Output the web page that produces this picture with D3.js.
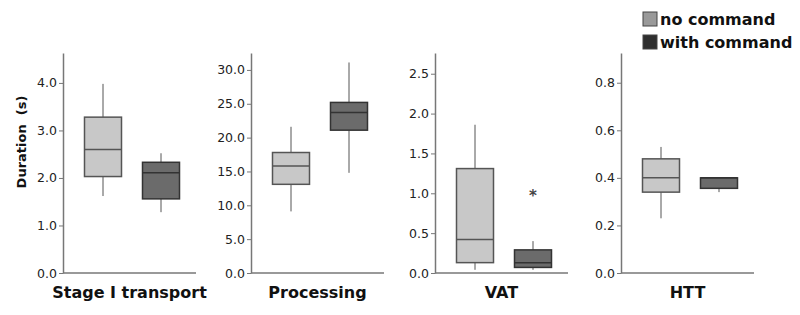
<!DOCTYPE html>
<html>
<head>
<meta charset="utf-8">
<script src="https://cdn.jsdelivr.net/npm/d3@7"></script>
<style>
  body { margin: 0; background: #fff; }
  svg { display: block; font-family: "DejaVu Sans", Verdana, sans-serif; }
  .tick text { fill: #222; font-size: 12.5px; font-family: "DejaVu Sans", Verdana, sans-serif; }
  .domain, .tick line { stroke: #777; }
</style>
</head>
<body>
<svg width="800" height="315"></svg>
<script>
// categories (one panel each) and the two series
var categories = ['Stage I transport', 'Processing', 'VAT', 'HTT'];
var series = ['no command', 'with command'];

// box stats per category: [min, q1, median, q3, max]
var noCommand = [
    [1.62, 2.03, 2.60, 3.28, 3.98],
    [9.1, 13.1, 15.8, 17.8, 21.6],
    [0.04, 0.13, 0.42, 1.31, 1.86],
    [0.23, 0.34, 0.40, 0.48, 0.53]
];
var withCommand = [
    [1.28, 1.56, 2.11, 2.33, 2.52],
    [14.8, 21.1, 23.7, 25.2, 31.1],
    [0.04, 0.07, 0.13, 0.29, 0.40],
    [0.34, 0.356, 0.40, 0.40, 0.40]
];
// outliers: [category index, series index, value]
var outliers = [[2, 1, 1.0]];

// y axis per panel
var yMax = [4.63, 32.5, 2.76, 0.925];
var tickValues = [
    [0, 1, 2, 3, 4],
    [0, 5, 10, 15, 20, 25, 30],
    [0, 0.5, 1, 1.5, 2, 2.5],
    [0, 0.2, 0.4, 0.6, 0.8]
];

var svg = d3.select('svg');

var fills = {'no command': '#c8c8c8', 'with command': '#6b6b6b'};
var strokes = {'no command': '#555', 'with command': '#333'};

var panelX = [63, 251, 435, 621];
var panelW = 133;
var yTop = 53, yBottom = 273;
var boxW = 37;

var x = d3.scalePoint()
    .domain(series)
    .range([40, 98]);

categories.forEach(function(cat, i) {
    var g = svg.append('g')
        .attr('transform', 'translate(' + panelX[i] + ',0)');

    var y = d3.scaleLinear()
        .domain([0, yMax[i]])
        .range([yBottom, yTop]);

    // left axis
    g.append('g')
        .call(d3.axisLeft(y)
            .tickValues(tickValues[i])
            .tickFormat(d3.format('.1f'))
            .tickSize(4)
            .tickSizeOuter(0)
            .tickPadding(2))
        .call(function(a) { a.select('.domain').attr('stroke-width', 1.5); });

    // baseline
    g.append('line')
        .attr('x1', 0).attr('x2', panelW)
        .attr('y1', yBottom).attr('y2', yBottom)
        .attr('stroke', '#777')
        .attr('stroke-width', 1.5);

    var stats = [noCommand[i], withCommand[i]];
    series.forEach(function(s, j) {
        var d = stats[j];
        var cx = x(s);
        // whiskers
        g.append('line')
            .attr('x1', cx).attr('x2', cx)
            .attr('y1', y(d[0])).attr('y2', y(d[1]))
            .attr('stroke', '#555');
        g.append('line')
            .attr('x1', cx).attr('x2', cx)
            .attr('y1', y(d[3])).attr('y2', y(d[4]))
            .attr('stroke', '#555');
        // box
        g.append('rect')
            .attr('x', cx - boxW / 2)
            .attr('width', boxW)
            .attr('y', y(d[3]))
            .attr('height', y(d[1]) - y(d[3]))
            .attr('fill', fills[s])
            .attr('stroke', strokes[s])
            .attr('stroke-width', 1.5);
        // median
        g.append('line')
            .attr('x1', cx - boxW / 2).attr('x2', cx + boxW / 2)
            .attr('y1', y(d[2])).attr('y2', y(d[2]))
            .attr('stroke', strokes[s])
            .attr('stroke-width', 1.5);
    });

    outliers.filter(function(o) { return o[0] === i; }).forEach(function(o) {
        g.append('text')
            .attr('x', x(series[o[1]]))
            .attr('y', y(o[2]) + 8)
            .attr('text-anchor', 'middle')
            .style('font-size', '15px')
            .style('font-weight', 'bold')
            .attr('fill', '#444')
            .text('*');
    });

    // category label
    g.append('text')
        .attr('x', panelW / 2)
        .attr('y', 298)
        .attr('text-anchor', 'middle')
        .style('font-size', '16px')
        .style('font-weight', 'bold')
        .attr('fill', '#111')
        .text(cat);
});

// y axis title
svg.append('text')
    .attr('transform', 'translate(26,142) rotate(-90)')
    .attr('text-anchor', 'middle')
    .style('font-size', '13px')
    .style('font-weight', 'bold')
    .style('white-space', 'pre')
    .attr('fill', '#111')
    .text('Duration  (s)');

// legend
var legendFills = ['#999', '#2e2e2e'];
var legend = svg.append('g')
    .attr('transform', 'translate(643,12)');
series.forEach(function(s, j) {
    legend.append('rect')
        .attr('x', 0).attr('y', j * 23)
        .attr('width', 14).attr('height', 14)
        .attr('fill', legendFills[j])
        .attr('stroke', '#444');
    legend.append('text')
        .attr('x', 17).attr('y', j * 23 + 13)
        .style('font-size', '16px')
        .style('font-weight', 'bold')
        .attr('fill', '#111')
        .text(s);
});
</script>
</body>
</html>
